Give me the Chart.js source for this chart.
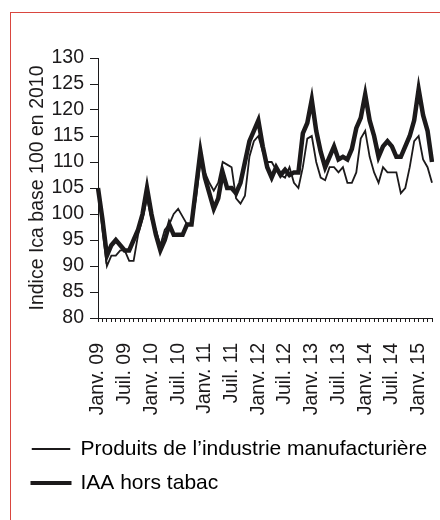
<!DOCTYPE html>
<html>
<head>
<meta charset="utf-8">
<script src="https://cdn.jsdelivr.net/npm/chart.js@4"></script>
<style>
  html, body { margin: 0; padding: 0; background: #fff; }
  #wrap { position: relative; width: 440px; height: 520px; overflow: hidden; }
  #frame { position: absolute; left: 10px; top: 12px; width: 500px; height: 600px;
           border: 1.5px solid #d9463f; box-sizing: border-box; }
  #c { position: absolute; left: 0; top: 0; }
</style>
</head>
<body>
<div id="wrap">
  <div id="frame"></div>
  <canvas id="c" width="440" height="520"></canvas>
</div>
<script>
// mois et années de l'axe horizontal (janv. 2009 -> avr. 2015)
const moisNoms = ['Janv.', 'Févr.', 'Mars', 'Avr.', 'Mai', 'Juin', 'Juil.', 'Août', 'Sept.', 'Oct.', 'Nov.', 'Déc.'];
const annees = ['09', '10', '11', '12', '13', '14', '15'];
const nbMois = 76;

// Produits de l'industrie manufacturière (trait fin)
const manuf = [105, 97, 90, 92, 92, 93, 93, 91, 91, 96, 99, 103,
               99, 97, 94, 97, 98, 100, 101, 99.5, 98, 98, 103, 110,
               108, 106, 104.5, 106, 110, 109.5, 109, 103, 102, 103.5, 111, 114,
               115, 112, 110, 110, 108.5, 107.5, 107, 109, 106, 105, 109, 114.5,
               115, 110, 107, 106.5, 109, 109, 108, 109, 106, 106, 108, 114.5,
               116, 111, 108, 106, 109, 108, 108, 108, 104, 105, 109, 114,
               115, 110.5, 109, 106];

// IAA hors tabac (trait épais)
const iaa = [105, 99, 92, 94, 95, 94, 93, 93, 95, 97, 100, 105,
             100, 96, 93, 95, 98, 96, 96, 96, 98, 98, 105, 112,
             107, 104, 101, 103, 108, 105, 105, 104, 106, 110, 114, 116,
             118, 113, 109, 107, 109, 107.5, 108.5, 107.5, 108, 108, 115.5, 117.5,
             122, 116, 112, 109, 111, 113, 110.5, 111, 110.5, 112.5, 116.5, 118.5,
             123, 118, 115, 111, 113, 114, 113, 111, 111, 113, 115, 118,
             124, 119, 116, 110];

const labels = [];
for (let i = 0; i < nbMois; i++) {
  labels.push(moisNoms[i % 12] + ' ' + annees[Math.floor(i / 12)]);
}

const encre = '#1c1a1b';
const police = "'Liberation Sans', Arial, sans-serif";
const taille = 19.5;

const ctx = document.getElementById('c').getContext('2d');
new Chart(ctx, {
  type: 'line',
  data: {
    labels: labels,
    datasets: [{
      label: 'Produits de l\u2019industrie manufacturière',
      data: manuf,
      borderColor: encre,
      backgroundColor: encre,
      borderWidth: 1.8,
      pointRadius: 0,
      tension: 0
    }, {
      label: 'IAA hors tabac',
      data: iaa,
      borderColor: encre,
      backgroundColor: encre,
      borderWidth: 4.5,
      pointRadius: 0,
      tension: 0
    }]
  },
  options: {
    responsive: false,
    animation: false,
    layout: { padding: { left: 19, top: 58, right: 8, bottom: 16.5 } },
    plugins: {
      tooltip: { enabled: false },
      legend: {
        position: 'bottom',
        align: 'start',
        labels: {
          color: encre,
          font: { family: police, size: 21 },
          padding: 13,
          boxWidth: 38,
          boxHeight: 1,
          generateLabels: (chart) => chart.data.datasets.map((ds, i) => ({
            text: ds.label,
            fillStyle: encre,
            strokeStyle: encre,
            lineWidth: i === 0 ? 1 : 3,
            datasetIndex: i,
            hidden: false
          }))
        }
      }
    },
    scales: {
      x: {
        afterFit: (s) => { s.height = 107.5; s.paddingLeft = 0; s.paddingRight = 0; },
        grid: { drawOnChartArea: false, tickLength: 4, tickColor: encre, tickWidth: 1 },
        border: { color: encre, width: 1 },
        ticks: {
          autoSkip: false,
          minRotation: 90,
          maxRotation: 90,
          padding: 21,
          color: encre,
          font: { family: police, size: taille },
          callback: function (v, i) {
            return (i % 6 === 0) ? this.getLabelForValue(v) : '';
          }
        }
      },
      y: {
        min: 80,
        max: 130,
        afterFit: (s) => { s.width = 79; s.paddingTop = 0; s.paddingBottom = 0; },
        grid: { drawOnChartArea: false, tickLength: 8, tickColor: encre, tickWidth: 1 },
        border: { color: encre, width: 1 },
        ticks: {
          stepSize: 5,
          autoSkip: false,
          padding: 6,
          color: encre,
          font: { family: police, size: taille }
        },
        title: {
          display: true,
          text: 'Indice Ica base 100 en 2010',
          color: encre,
          font: { family: police, size: taille },
          padding: { top: 7, bottom: 0 }
        }
      }
    }
  }
});
</script>
</body>
</html>
